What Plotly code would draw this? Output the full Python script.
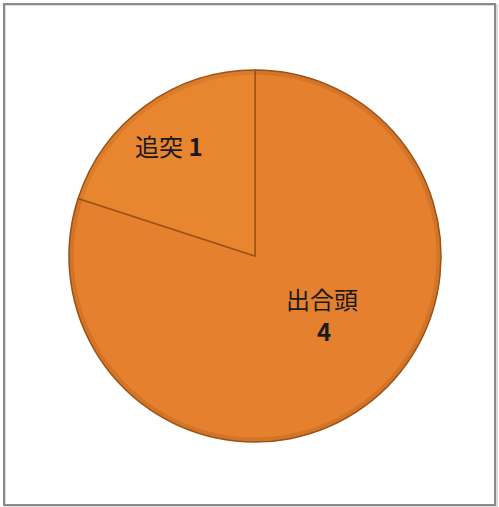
import plotly.graph_objects as go

labels = ["出合頭", "追突"]
values = [4, 1]
label_texts = ["出合頭", "<b>4</b>", "追突 <b>1</b>"]
# label centres in pixels (as in the reference)
label_px = [(322, 298), (324, 330), (169, 145)]

W, H = 499, 507
cx, cy, r = 255, 256, 186
dom = dict(x=[(cx - r) / W, (cx + r) / W], y=[1 - (cy + r) / H, 1 - (cy - r) / H])

fig = go.Figure()
fig.add_trace(go.Pie(
    labels=labels,
    values=values,
    textinfo="none",
    sort=False,
    direction="clockwise",
    rotation=0,
    marker=dict(colors=["#E5812E", "#E8852F"], line=dict(color="#9C5418", width=1.5)),
    hoverinfo="skip",
    showlegend=False,
    domain=dom,
))
# subtle darker rim for a bevelled look
fig.add_trace(go.Pie(
    labels=labels,
    values=values,
    hole=0.975,
    textinfo="none",
    sort=False,
    direction="clockwise",
    rotation=0,
    marker=dict(colors=["rgba(150,75,15,0.22)", "rgba(150,75,15,0.15)"], line=dict(width=0)),
    hoverinfo="skip",
    showlegend=False,
    domain=dom,
))

annotations = []
for t, (px, py) in zip(label_texts, label_px):
    annotations.append(dict(
        text=t, x=px / W, y=1 - py / H, xref="paper", yref="paper",
        showarrow=False, xanchor="center", yanchor="middle",
        font=dict(family="Noto Sans CJK JP", size=24, color="#1a1a1a"),
    ))

fig.update_layout(
    width=W, height=H,
    margin=dict(l=0, r=0, t=0, b=0),
    paper_bgcolor="white",
    plot_bgcolor="white",
    annotations=annotations,
    shapes=[
        dict(type="rect", xref="paper", yref="paper",
             x0=5 / W, x1=497 / W, y0=1 - 507 / H, y1=1 - 5 / H,
             line=dict(color="#dcdcdc", width=2), fillcolor="rgba(0,0,0,0)"),
        dict(type="rect", xref="paper", yref="paper",
             x0=4 / W, x1=495 / W, y0=1 - 505 / H, y1=1 - 4 / H,
             line=dict(color="#8a8a8a", width=2), fillcolor="rgba(0,0,0,0)"),
    ],
)

fig.write_html("out.html", config={"displayModeBar": False},
               post_script="document.body.style.margin='0';document.body.style.overflow='hidden';")
